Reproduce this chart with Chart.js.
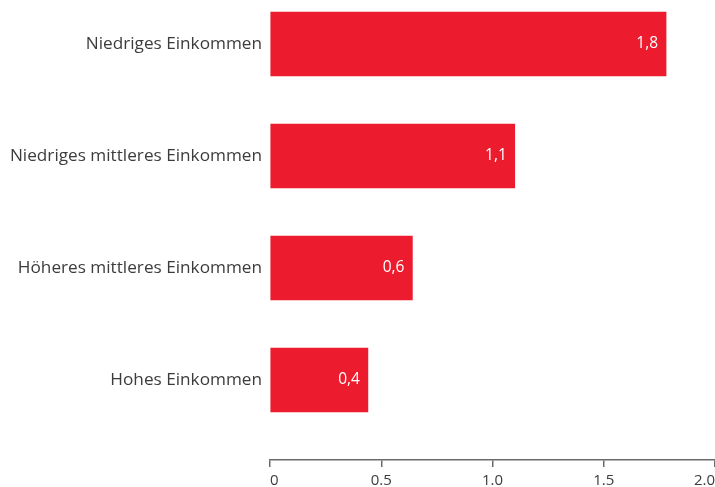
<!DOCTYPE html>
<html>
<head>
<meta charset="utf-8">
<script src="https://cdn.jsdelivr.net/npm/chart.js@4"></script>
<style>
    body { margin: 0; background: #fff; }
    #wrap { width: 715px; height: 487px; }
</style>
</head>
<body>
<div id="wrap"><canvas id="incomeChart"></canvas></div>
<script>
// data
const categories = ['Niedriges Einkommen', 'Niedriges mittleres Einkommen', 'Höheres mittleres Einkommen', 'Hohes Einkommen'];
const values = [1.78, 1.1, 0.64, 0.44];
const valueLabels = ['1,8', '1,1', '0,6', '0,4'];
const xTicks = [0, 0.5, 1.0, 1.5, 2.0];

const FONT = "'Open Sans', sans-serif";

// Beschriftung in den Balken
const barLabels = {
    id: 'barLabels',
    afterDatasetsDraw: function (chart) {
        const ctx = chart.ctx;
        const meta = chart.getDatasetMeta(0);
        ctx.save();
        ctx.fillStyle = '#ffffff';
        ctx.font = '15.5px ' + FONT;
        ctx.textAlign = 'right';
        ctx.textBaseline = 'middle';
        meta.data.forEach(function (bar, i) {
            ctx.fillText(valueLabels[i], bar.x - 8, bar.y);
        });
        ctx.restore();
    }
};

window.onload = function () {
    var area = document.getElementById('incomeChart').getContext('2d');
    var chart = new Chart(area, {
        type: 'bar',
        data: {
            datasets: [
                {
                    data: values.map(function (v, i) { return { x: v, y: i }; }),
                    backgroundColor: '#ec1c2e',
                    borderWidth: 0,
                    barThickness: 64
                }
            ]
        },
        options: {
            indexAxis: 'y',
            responsive: true,
            maintainAspectRatio: false,
            animation: false,
            layout: { padding: 0 },
            scales: {
                x: {
                    type: 'linear',
                    min: 0,
                    max: 2,
                    afterBuildTicks: function (scale) {
                        scale.ticks = xTicks.map(function (v) { return { value: v }; });
                    },
                    afterFit: function (scale) {
                        scale.height = 27;
                        scale.paddingRight = 0;
                        scale.paddingLeft = 0;
                    },
                    grid: {
                        drawOnChartArea: false,
                        drawTicks: true,
                        tickLength: 7,
                        color: '#6b6b6b',
                        lineWidth: 1.5
                    },
                    border: { color: '#6b6b6b', width: 1.5 },
                    ticks: {
                        align: 'inner',
                        padding: 5,
                        color: '#3c3c3c',
                        font: { family: FONT, size: 15 },
                        callback: function (value) {
                            return value === 0 ? '0' : value.toFixed(1);
                        }
                    }
                },
                y: {
                    type: 'linear',
                    reverse: true,
                    offset: false,
                    min: -0.3929,
                    max: 3.714,
                    afterBuildTicks: function (scale) {
                        scale.ticks = categories.map(function (c, i) { return { value: i }; });
                    },
                    afterFit: function (scale) {
                        scale.width = 270;
                        scale.paddingTop = 0;
                        scale.paddingBottom = 0;
                    },
                    grid: { display: false, drawTicks: false },
                    border: { display: false },
                    ticks: {
                        padding: 8,
                        color: '#3c3c3c',
                        font: { family: FONT, size: 17.2 },
                        callback: function (value) {
                            return categories[value];
                        }
                    }
                }
            },
            plugins: {
                legend: { display: false },
                tooltip: { enabled: false }
            }
        },
        plugins: [barLabels]
    });
};
</script>
</body>
</html>
